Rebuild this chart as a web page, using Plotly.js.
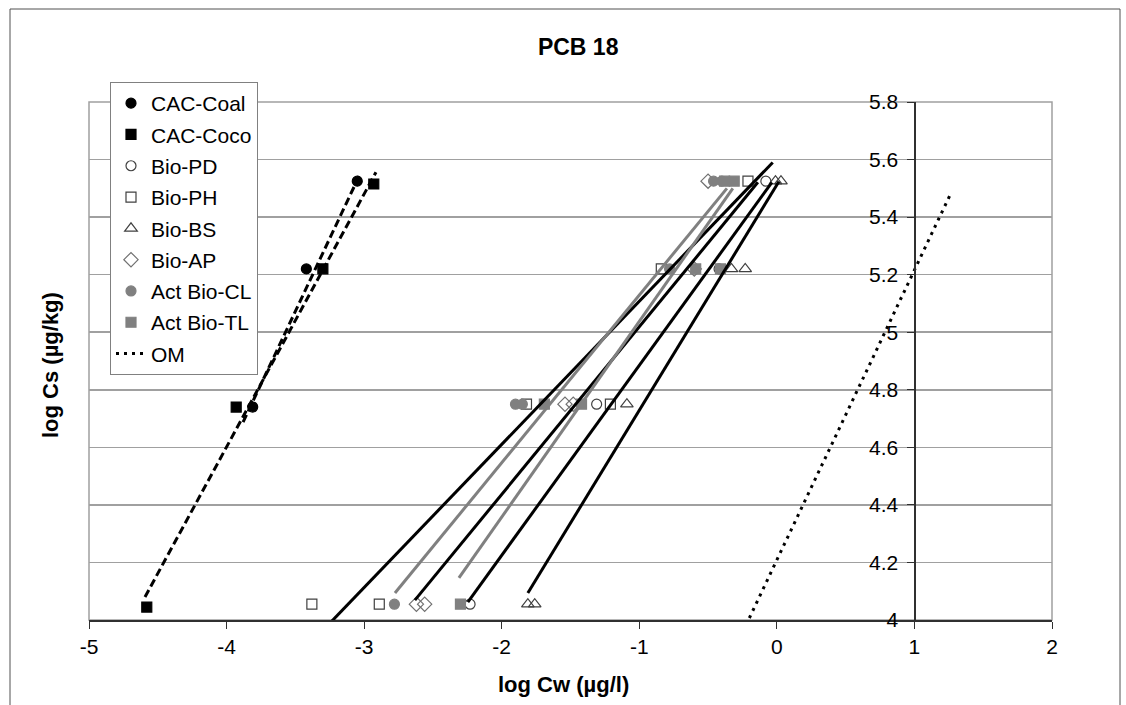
<!DOCTYPE html>
<html>
<head>
<meta charset="utf-8">
<script src="https://cdn.plot.ly/plotly-3.0.1.min.js"></script>
<style>html,body{margin:0;padding:0;background:#fff;}#chart{width:1126px;height:705px;}</style>
</head>
<body>
<div id="chart"></div>
<script>
// ---- data ----
const xCoal = [-3.81, -3.42, -3.05];
const yCoal = [4.74, 5.22, 5.525];
const xCoco = [-4.58, -3.93, -3.30, -2.93];
const yCoco = [4.045, 4.74, 5.22, 5.515];
const xPD = [-2.23, -1.31, -0.42, -0.08];
const yPD = [4.055, 4.75, 5.22, 5.525];
const xPH = [-3.38, -2.89, -1.82, -1.21, -0.84, -0.21];
const yPH = [4.055, 4.055, 4.75, 4.75, 5.22, 5.525];
const xBS = [-1.81, -1.76, -1.09, -0.33, -0.23, -0.01, 0.03];
const yBS = [4.055, 4.055, 4.75, 5.22, 5.22, 5.525, 5.525];
const xAP = [-2.62, -2.56, -1.54, -1.48, -0.60, -0.50];
const yAP = [4.055, 4.055, 4.75, 4.75, 5.22, 5.525];
const xCL = [-2.78, -1.90, -1.85, -0.78, -0.46, -0.40];
const yCL = [4.055, 4.75, 4.75, 5.22, 5.525, 5.525];
const xTL = [-2.30, -1.69, -1.42, -0.59, -0.41, -0.38, -0.31];
const yTL = [4.055, 4.75, 4.75, 5.22, 5.22, 5.525, 5.525];
const xOM = [-0.20, 1.265];
const yOM = [4.007, 5.483];

// trend lines (end points)
const trendCoalX = [-3.88, -3.03];  const trendCoalY = [4.6875, 5.549];
const trendCocoX = [-4.593, -2.914]; const trendCocoY = [4.08, 5.556];
const trendPDX = [-2.246, -0.036];  const trendPDY = [4.0625, 5.521];
const trendPHX = [-3.38, -0.03];    const trendPHY = [3.924, 5.59];
const trendBSX = [-1.81, 0.015];    const trendBSY = [4.094, 5.524];
const trendAPX = [-2.631, -0.138];  const trendAPY = [4.069, 5.521];
const trendCLX = [-2.776, -0.363];  const trendCLY = [4.094, 5.50];
const trendTLX = [-2.311, -0.32];   const trendTLY = [4.146, 5.50];

// tick labels
const xTickVals = [-5, -4, -3, -2, -1, 0, 1, 2];
const xTickText = ['-5', '-4', '-3', '-2', '-1', '0', '1', '2'];

const FONT = 'Liberation Sans, Arial, sans-serif';

function pts(name, x, y, symbol, fill, lineColor, size) {
  return {
    type: 'scatter', mode: 'markers', name: name, x: x, y: y, legendgroup: name,
    marker: {symbol: symbol, size: size || 10, color: fill, line: {color: lineColor, width: 1.2}},
    cliponaxis: false
  };
}
function trend(x, y, color, dash) {
  return {
    type: 'scatter', mode: 'lines', x: x, y: y, showlegend: false, hoverinfo: 'skip',
    line: {color: color, width: 3, dash: dash || 'solid'}
  };
}

const data = [
  pts('CAC-Coal', xCoal, yCoal, 'circle', '#000', '#000'),
  pts('CAC-Coco', xCoco, yCoco, 'square', '#000', '#000'),
  pts('Bio-PD', xPD, yPD, 'circle-open', '#404040', '#404040'),
  pts('Bio-PH', xPH, yPH, 'square-open', '#404040', '#404040'),
  pts('Bio-BS', xBS, yBS, 'triangle-up-open', '#404040', '#404040', 11),
  pts('Bio-AP', xAP, yAP, 'diamond-open', '#707070', '#707070', 11),
  pts('Act Bio-CL', xCL, yCL, 'circle', '#808080', '#808080'),
  pts('Act Bio-TL', xTL, yTL, 'square', '#808080', '#808080'),
  {type: 'scatter', mode: 'lines', name: 'OM', x: xOM, y: yOM, legendgroup: 'OM',
   line: {color: '#000', width: 3, dash: '3px,5px'}},
  trend(trendCoalX, trendCoalY, '#000', '8px,4px'),
  trend(trendCocoX, trendCocoY, '#000', '8px,4px'),
  trend(trendPHX, trendPHY, '#000'),
  trend(trendAPX, trendAPY, '#000'),
  trend(trendPDX, trendPDY, '#000'),
  trend(trendBSX, trendBSY, '#000'),
  trend(trendCLX, trendCLY, '#808080'),
  trend(trendTLX, trendTLY, '#808080')
];

const layout = {
  width: 1126, height: 705,
  margin: {l: 89, r: 74, t: 102, b: 85, pad: 0},
  paper_bgcolor: '#fff', plot_bgcolor: '#fff',
  font: {family: FONT, color: '#000', size: 21},
  showlegend: true,
  title: {text: '<b>PCB 18</b>', font: {family: FONT, size: 23, color: '#000'},
          x: 0.508, xref: 'paper', xanchor: 'center', y: 1 - 47/705, yref: 'container', yanchor: 'middle'},
  xaxis: {
    range: [-5, 2], tickmode: 'array', tickvals: xTickVals, ticktext: xTickText,
    showgrid: false, zeroline: false,
    showline: true, linecolor: '#303030', linewidth: 1.5,
    ticks: 'outside', ticklen: 7, tickcolor: '#303030', tickwidth: 1,
    tickfont: {family: FONT, size: 21, color: '#000'}
  },
  yaxis: {
    range: [4, 5.8], tick0: 4, dtick: 0.2, showgrid: true, gridcolor: '#a0a0a0', gridwidth: 1.5,
    zeroline: false, showline: true, linecolor: '#303030', linewidth: 1.5,
    anchor: 'free', position: 6/7, side: 'left',
    ticks: 'outside', ticklen: 7, tickcolor: '#303030', tickwidth: 1, ticklabelstandoff: 5,
    tickfont: {family: FONT, size: 21, color: '#000'}
  },
  legend: {
    x: (110-89)/963, y: (620-82)/518, xanchor: 'left', yanchor: 'top',
    bgcolor: '#fff', bordercolor: '#808080', borderwidth: 1,
    font: {family: FONT, size: 21, color: '#000'},
    tracegroupgap: 1, itemsizing: 'trace'
  },
  shapes: [
    {type: 'rect', xref: 'paper', yref: 'paper', x0: 0, x1: 1, y0: 0, y1: 1,
     line: {color: '#a0a0a0', width: 1.5}, layer: 'below'},
    {type: 'rect', xref: 'paper', yref: 'paper', x0: (10-89)/963, x1: (1120-89)/963,
     y0: (620-712)/518, y1: (620-9)/518, line: {color: '#505050', width: 1}, layer: 'below'}
  ],
  annotations: [
    {text: '<b>log Cw (µg/l)</b>', xref: 'paper', yref: 'paper', x: (563-89)/963, y: (620-684)/518,
     xanchor: 'center', yanchor: 'middle', showarrow: false, font: {family: FONT, size: 22, color: '#000'}},
    {text: '<b>log Cs (µg/kg)</b>', xref: 'paper', yref: 'paper', x: (50-89)/963, y: (620-365)/518,
     xanchor: 'center', yanchor: 'middle', textangle: -90, showarrow: false, font: {family: FONT, size: 22, color: '#000'}}
  ]
};

Plotly.newPlot('chart', data, layout, {displayModeBar: false, staticPlot: true});
</script>
</body>
</html>
